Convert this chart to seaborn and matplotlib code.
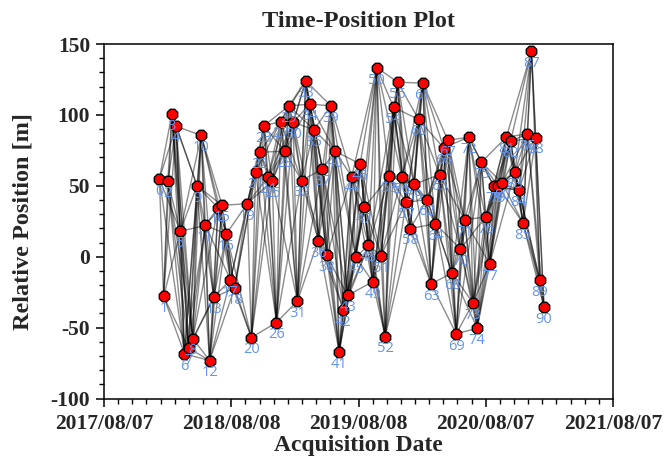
import numpy as np
import pandas as pd
import matplotlib
matplotlib.use("Agg")
import matplotlib.pyplot as plt
import matplotlib.dates as mdates
from matplotlib.ticker import MultipleLocator, FixedLocator
import seaborn as sns

# Acquisition dates of the SAR scenes (index = label drawn under each point)
acq_dates = [
    "2018-01-13", "2018-01-25", "2018-02-06", "2018-02-18", "2018-03-02",
    "2018-03-14", "2018-03-26", "2018-04-07", "2018-04-19", "2018-05-01",
    "2018-05-13", "2018-05-25", "2018-06-06", "2018-06-18", "2018-06-30",
    "2018-07-12", "2018-07-24", "2018-08-05", "2018-08-17", "2018-09-22",
    "2018-10-04", "2018-10-16", "2018-10-28", "2018-11-09", "2018-11-21",
    "2018-12-03", "2018-12-15", "2018-12-27", "2019-01-08", "2019-01-20",
    "2019-02-01", "2019-02-13", "2019-02-25", "2019-03-09", "2019-03-21",
    "2019-04-02", "2019-04-14", "2019-04-26", "2019-05-08", "2019-05-20",
    "2019-06-01", "2019-06-13", "2019-06-25", "2019-07-07", "2019-07-19",
    "2019-07-31", "2019-08-12", "2019-08-24", "2019-09-05", "2019-09-17",
    "2019-09-29", "2019-10-11", "2019-10-23", "2019-11-04", "2019-11-16",
    "2019-11-28", "2019-12-10", "2019-12-22", "2020-01-03", "2020-01-15",
    "2020-01-27", "2020-02-08", "2020-02-20", "2020-03-03", "2020-03-15",
    "2020-03-27", "2020-04-08", "2020-04-20", "2020-05-02", "2020-05-14",
    "2020-05-26", "2020-06-07", "2020-06-19", "2020-07-01", "2020-07-13",
    "2020-07-25", "2020-08-06", "2020-08-18", "2020-08-30", "2020-09-11",
    "2020-09-23", "2020-10-05", "2020-10-17", "2020-10-29", "2020-11-10",
    "2020-11-22", "2020-12-04", "2020-12-16", "2020-12-28", "2021-01-09",
    "2021-01-21",
]

# Perpendicular (relative) position of each acquisition, in metres
rel_position = [
    55.0, -28.0, 53.2, 100.5, 92.0, 17.9, -68.5, -64.5, -57.7, 50.1,
    85.5, 22.1, -73.2, -28.7, 34.4, 36.2, 16.0, -16.2, -22.1, 37.4,
    -57.0, 59.8, 73.7, 92.3, 56.3, 53.5, -46.4, 95.3, 74.4, 106.4,
    94.8, -31.3, 53.7, 124.1, 107.6, 89.5, 11.3, 61.9, 0.9, 106.4,
    74.4, -67.1, -37.4, -27.3, 56.5, -0.2, 65.5, 34.8, 8.0, -17.7,
    133.3, 0.7, -56.3, 56.7, 105.4, 123.1, 56.3, 38.3, 19.8, 51.1,
    96.8, 122.4, 40.3, -19.1, 23.3, 57.9, 76.8, 82.1, -11.5, -54.4,
    5.4, 26.1, 84.3, -32.7, -50.4, 66.6, 28.0, -5.2, 49.6, 49.6,
    52.0, 84.3, 81.4, 59.5, 46.8, 23.5, 86.7, 144.8, 84.0, -16.7,
    -35.8,
]

x_tick_dates = ["2017-08-07 00:00", "2018-08-07 06:00", "2019-08-07 12:00",
                "2020-08-06 18:00", "2021-08-07 00:00"]
x_tick_labels = ["2017/08/07", "2018/08/08", "2019/08/08", "2020/08/07", "2021/08/07"]
y_ticks = [-100, -50, 0, 50, 100, 150]

# Maximum temporal baseline for an interferometric pair
max_baseline_days = 72

sns.set_style("ticks")
plt.rcParams["font.family"] = ["Liberation Serif", "DejaVu Serif"]
plt.rcParams["axes.unicode_minus"] = False

scenes = pd.DataFrame({"date": pd.to_datetime(acq_dates), "pos": rel_position})
scenes["label"] = [str(i) for i in range(len(scenes))]

# Build the pair network (one line per pair)
rows = []
pair_id = 0
n = len(scenes)
for i in range(n):
    for j in range(i + 1, n):
        if (scenes.date[j] - scenes.date[i]).days <= max_baseline_days:
            rows.append((pair_id, scenes.date[i], scenes.pos[i]))
            rows.append((pair_id, scenes.date[j], scenes.pos[j]))
            pair_id += 1
pairs = pd.DataFrame(rows, columns=["pair", "date", "pos"])

fig = plt.figure(figsize=(6.68, 4.58), dpi=100)
ax = fig.add_axes([0.1557, 0.1299, 0.7620, 0.7740])

sns.lineplot(data=pairs, x="date", y="pos", units="pair", estimator=None,
             sort=False, color="black", alpha=0.45, linewidth=1.0,
             ax=ax, zorder=1, legend=False)
sns.scatterplot(data=scenes, x="date", y="pos", marker="8", s=66,
                color="red", edgecolor="black", linewidth=1.0,
                ax=ax, zorder=3, legend=False)

for d, p, lab in zip(scenes.date, scenes.pos, scenes.label):
    ax.annotate(lab, (d, p), xytext=(0, -3.5), textcoords="offset points",
                ha="center", va="top", color="#6495ED", fontsize=10.5,
                family=["Open Sans", "DejaVu Sans"], zorder=4,
                annotation_clip=False)

x0 = pd.Timestamp(x_tick_dates[0])
x1 = pd.Timestamp(x_tick_dates[-1])
ax.set_xlim(x0, x1)
ax.set_ylim(-100, 150)

major_x = [mdates.date2num(pd.Timestamp(t)) for t in x_tick_dates]
ax.xaxis.set_major_locator(FixedLocator(major_x))
ax.set_xticklabels(x_tick_labels)
minor_x = np.linspace(major_x[0], major_x[-1], (len(major_x) - 1) * 9 + 1)
ax.xaxis.set_minor_locator(FixedLocator(minor_x))

ax.set_yticks(y_ticks)
ax.yaxis.set_minor_locator(MultipleLocator(10))

ax.tick_params(which="major", direction="out", length=6, width=1.1,
               labelsize=15.5, color="black")
ax.tick_params(axis="x", which="major", pad=5)
ax.tick_params(axis="y", which="major", pad=4)
ax.tick_params(which="minor", direction="out", length=3.5, width=1.0,
               color="black")
for lab in ax.get_xticklabels() + ax.get_yticklabels():
    lab.set_fontweight("bold")

for side in ["left", "right", "top", "bottom"]:
    ax.spines[side].set_visible(True)
    ax.spines[side].set_color("black")
    ax.spines[side].set_linewidth(1.1)

ax.set_title("Time-Position Plot", fontsize=17.5, fontweight="bold", pad=12)
ax.set_xlabel("Acquisition Date", fontsize=17, fontweight="bold", labelpad=1)
ax.set_ylabel("Relative Position [m]", fontsize=17.5, fontweight="bold", labelpad=12)

fig.savefig("out.png", dpi=100)
